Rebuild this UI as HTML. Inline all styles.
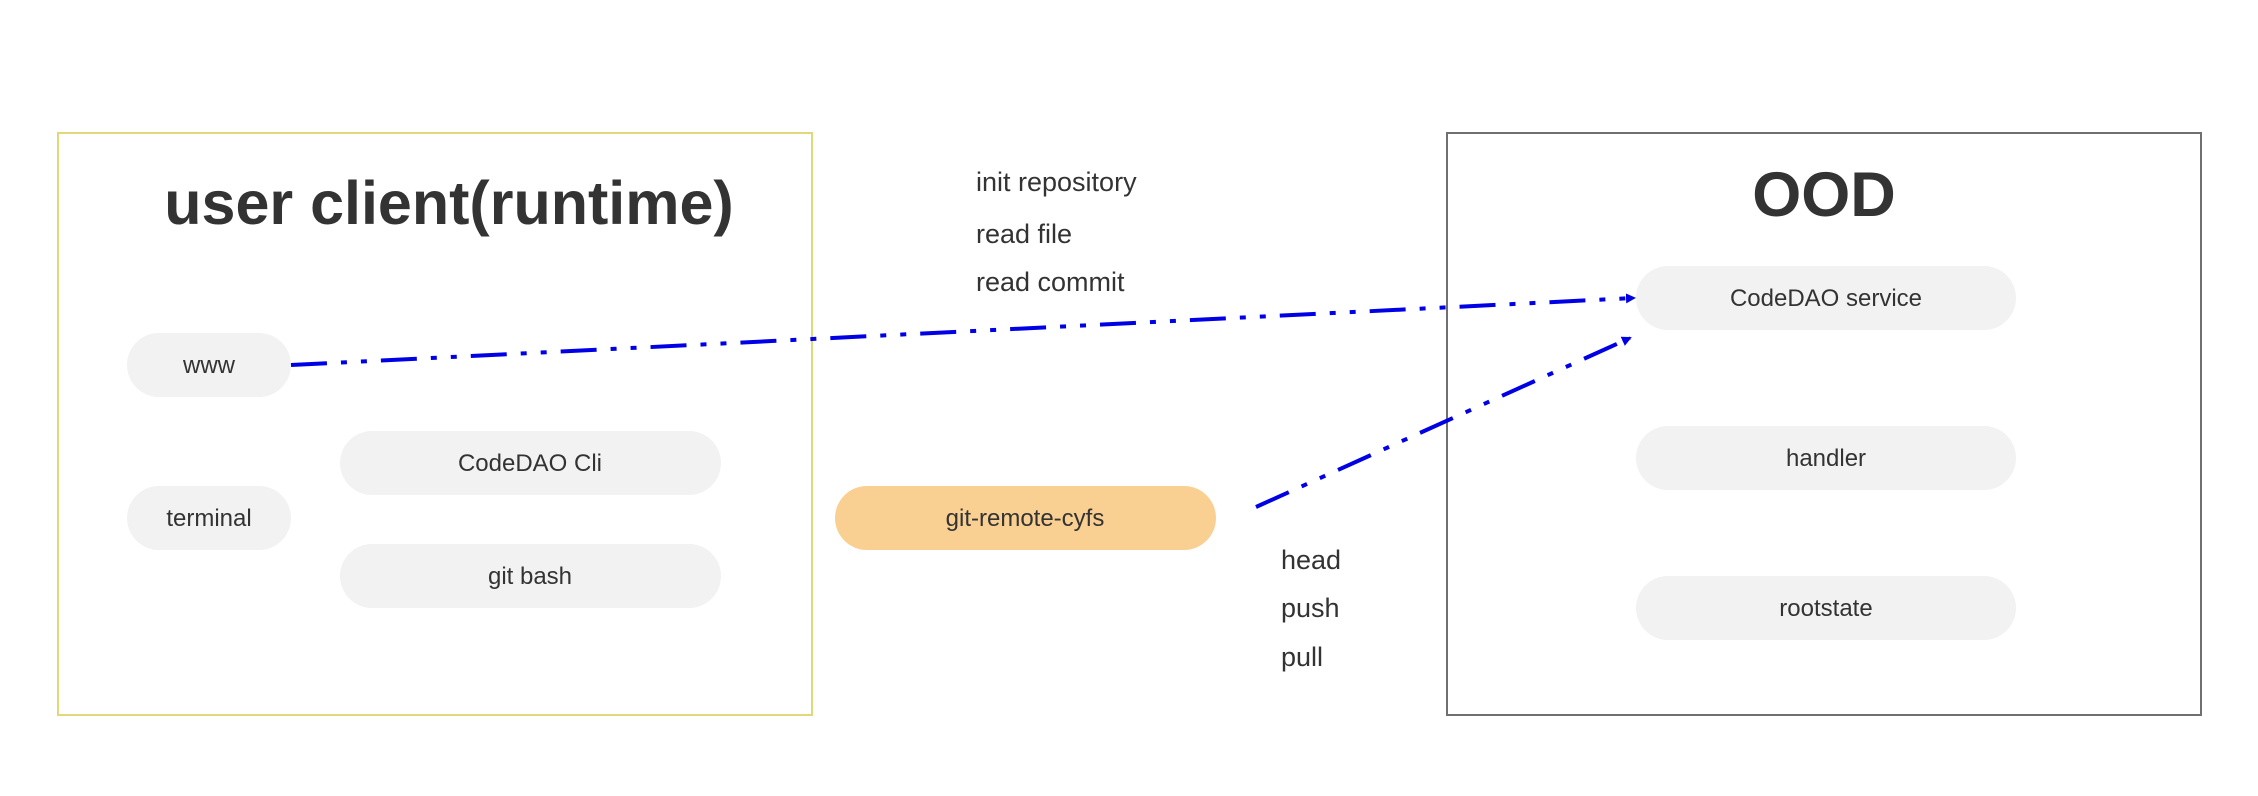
<!DOCTYPE html>
<html><head><meta charset="utf-8"><style>
body{margin:0;background:#fff;}
svg{display:block}
text{font-family:"Liberation Sans",Arial,sans-serif;}
</style></head><body>
<svg width="2258" height="796" viewBox="0 0 2258 796" xmlns="http://www.w3.org/2000/svg">
<defs>
<marker id="ah" markerWidth="10" markerHeight="10" refX="8" refY="5" orient="auto" markerUnits="userSpaceOnUse" viewBox="0 0 10 10">
<path d="M0,0 L10,5 L0,10 z" fill="#0000e6"/>
</marker>
</defs>
<rect x="58" y="133" width="754" height="582" fill="#fff" stroke="#e0d87a" stroke-width="2"/>
<rect x="1447" y="133" width="754" height="582" fill="#fff" stroke="#707070" stroke-width="2"/>
<text x="449" y="224" font-size="61" font-weight="bold" fill="#333" text-anchor="middle">user client(runtime)</text>
<text x="1824" y="216" font-size="63" font-weight="bold" fill="#333" text-anchor="middle">OOD</text>
<g font-size="24" fill="#333" text-anchor="middle">
<rect x="127" y="333" width="164" height="64" rx="32" fill="#f2f2f2"/><text x="209" y="373">www</text>
<rect x="127" y="486" width="164" height="64" rx="32" fill="#f2f2f2"/><text x="209" y="526">terminal</text>
<rect x="340" y="431" width="381" height="64" rx="32" fill="#f2f2f2"/><text x="530" y="471">CodeDAO Cli</text>
<rect x="340" y="544" width="381" height="64" rx="32" fill="#f2f2f2"/><text x="530" y="584">git bash</text>
<rect x="835" y="486" width="381" height="64" rx="32" fill="#f9cf92"/><text x="1025" y="526">git-remote-cyfs</text>
<rect x="1636" y="266" width="380" height="64" rx="32" fill="#f2f2f2"/><text x="1826" y="306">CodeDAO service</text>
<rect x="1636" y="426" width="380" height="64" rx="32" fill="#f2f2f2"/><text x="1826" y="466">handler</text>
<rect x="1636" y="576" width="380" height="64" rx="32" fill="#f2f2f2"/><text x="1826" y="616">rootstate</text>
</g>
<g font-size="27" fill="#333">
<text x="976" y="191">init repository</text>
<text x="976" y="243">read file</text>
<text x="976" y="291">read commit</text>
<text x="1281" y="569">head</text>
<text x="1281" y="617">push</text>
<text x="1281" y="666">pull</text>
</g>
<g stroke="#0000e6" stroke-width="4" fill="none" stroke-dasharray="36,14,6,14,6,14">
<line x1="291" y1="365" x2="1634" y2="298" marker-end="url(#ah)"/>
<line x1="1256" y1="507" x2="1630" y2="338" marker-end="url(#ah)"/>
</g>
</svg>
</body></html>
